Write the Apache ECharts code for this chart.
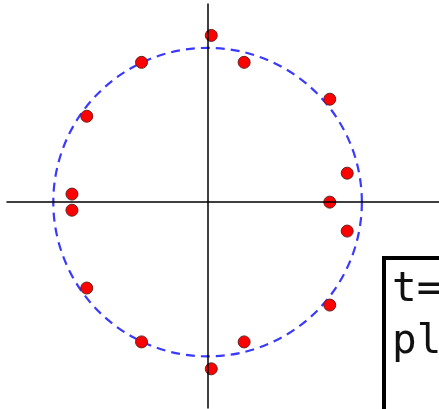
<!DOCTYPE html>
<html>
<head>
<meta charset="utf-8">
<script src="https://cdn.jsdelivr.net/npm/echarts@6/dist/echarts.min.js"></script>
<style>
  html, body { margin: 0; padding: 0; background: #fff; }
  #chart { width: 439px; height: 409px; }
</style>
</head>
<body>
<div id="chart"></div>
<script>
// points (unit circle = radius 1)
const pointsX = [0.024, 0.237, 0.792, 0.905, 0.792, 0.905, 0.792, 0.237, 0.024,
  -0.428, -0.783, -0.879, -0.879, -0.783, -0.428];
const pointsY = [1.077, 0.903, 0.665, 0.187, 0, -0.187, -0.665, -0.903, -1.077,
  -0.903, -0.555, -0.052, 0.052, 0.555, 0.903];

// reference circle: center x, center y, radius
const circle = [[0, 0, 1]];

// truncated label in the box
const boxLines = ["t=", "pl"];

const chart = echarts.init(document.getElementById("chart"));

const option = {
  backgroundColor: "#fff",
  animation: false,
  grid: {
    left: 7,
    right: 0,
    top: 4,
    bottom: 1,
    outerBoundsMode: "none",
  },
  xAxis: {
    type: "value",
    min: -1.3,
    max: 1.5,
    z: 10,
    axisLine: { onZero: true, lineStyle: { color: "#000", width: 1.5 } },
    axisTick: { show: false },
    axisLabel: { show: false },
    splitLine: { show: false },
  },
  yAxis: {
    type: "value",
    min: -1.33,
    max: 1.28,
    z: 10,
    axisLine: { onZero: true, lineStyle: { color: "#000", width: 1.5 } },
    axisTick: { show: false },
    axisLabel: { show: false },
    splitLine: { show: false },
  },
  series: [
    {
      type: "custom",
      data: circle,
      silent: true,
      z: 1,
      renderItem: (params, api) => {
        const c = api.coord([api.value(0), api.value(1)]);
        const r = api.size([api.value(2), 0])[0];
        return {
          type: "circle",
          shape: { cx: c[0], cy: c[1], r: r },
          style: {
            fill: null,
            stroke: "#3a3aff",
            lineWidth: 2.2,
            lineDash: [9, 6],
          },
        };
      },
    },
    {
      type: "scatter",
      z: 3,
      symbolSize: 12,
      data: pointsX.map((x, i) => [x, pointsY[i]]),
      itemStyle: {
        color: "#ff0000",
        borderColor: "#6b2020",
        borderWidth: 1,
        opacity: 1,
      },
    },
  ],
  graphic: [
    {
      type: "rect",
      z: 20,
      shape: { x: 384, y: 258, width: 120, height: 200 },
      style: { fill: "#fff", stroke: "#000", lineWidth: 4 },
    },
    {
      type: "text",
      z: 21,
      left: 392,
      top: 264,
      style: {
        text: boxLines.join("\n"),
        font: "41px 'DejaVu Sans Mono'",
        fill: "#111",
        lineHeight: 52,
      },
    },
  ],
};

chart.setOption(option);
</script>
</body>
</html>
